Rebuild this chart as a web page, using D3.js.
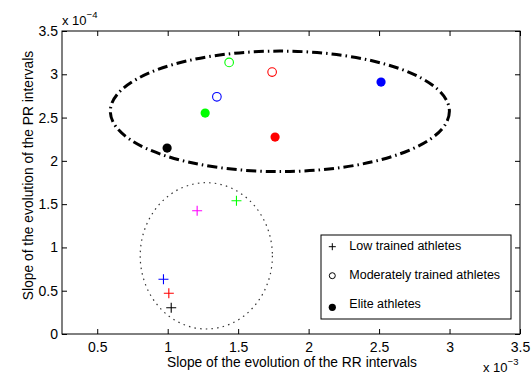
<!DOCTYPE html>
<html><head><meta charset="utf-8">
<script src="https://cdn.jsdelivr.net/npm/d3@7"></script>
<style>
body{margin:0;background:#fff;}
text{font-family:"Liberation Sans",Arial,Helvetica,sans-serif;}
</style></head>
<body><svg id="c" width="532" height="376"></svg>
<script>
// Data (x in units of 1e-3, y in units of 1e-4)
const groups = ["Low trained athletes","Moderately trained athletes","Elite athletes"];
const lowX = [1.209, 1.488, 0.970, 1.008, 1.025];
const lowY = [1.424, 1.539, 0.632, 0.470, 0.304];
const lowColor = ["#ff00ff","#00ff00","#0000ff","#ff0000","#000000"];
const modX = [1.436, 1.741, 1.349];
const modY = [3.137, 3.025, 2.740];
const modColor = ["#00ff00","#ff0000","#0000ff"];
const eliteX = [0.996, 1.266, 1.762, 2.514];
const eliteY = [2.148, 2.552, 2.275, 2.910];
const eliteColor = ["#000000","#00ff00","#ff0000","#0000ff"];
const xTicks = [0.5,1,1.5,2,2.5,3,3.5];
const yTicks = [0,0.5,1,1.5,2,2.5,3,3.5];
// ellipses: [cx, cy, rx, ry]
const ellipseElite = [1.796, 2.572, 1.203, 0.696];
const ellipseLow = [1.274, 0.903, 0.469, 0.845];

const svg = d3.select("#c");
const L=62, R=520, T=31, B=334;
const x = d3.scaleLinear().domain([0.25,3.5]).range([L,R]);
const y = d3.scaleLinear().domain([0,3.5]).range([B,T]);

const fmt = d => String(d);
// axes with inward ticks
const gx = svg.append("g").attr("transform",`translate(0,${B})`)
  .call(d3.axisBottom(x).tickValues(xTicks).tickFormat(fmt).tickSizeInner(-5).tickSizeOuter(0).tickPadding(8));
const gxt = svg.append("g").attr("transform",`translate(0,${T})`)
  .call(d3.axisTop(x).tickValues(xTicks).tickFormat("").tickSizeInner(-5).tickSizeOuter(0));
const gy = svg.append("g").attr("transform",`translate(${L},0)`)
  .call(d3.axisLeft(y).tickValues(yTicks).tickFormat(fmt).tickSizeInner(-5).tickSizeOuter(0).tickPadding(4));
const gyr = svg.append("g").attr("transform",`translate(${R},0)`)
  .call(d3.axisRight(y).tickValues(yTicks).tickFormat("").tickSizeInner(-5).tickSizeOuter(0));
[gx,gxt,gy,gyr].forEach(g=>{
  g.select(".domain").remove();
  g.selectAll("line").attr("stroke","#000");
  g.selectAll("text").attr("font-size",14).attr("fill","#000").style("font-family","Liberation Sans, Arial, sans-serif");
});
svg.append("rect").attr("x",L).attr("y",T).attr("width",R-L).attr("height",B-T)
  .attr("fill","none").attr("stroke","#000").attr("stroke-width",1);

// exponent labels
const e4 = svg.append("text").attr("x",L).attr("y",25).attr("font-size",13);
e4.append("tspan").text("x 10");
e4.append("tspan").attr("dy",-7).attr("font-size",9.5).text("\u22124");
const e3 = svg.append("text").attr("x",483).attr("y",372).attr("font-size",13);
e3.append("tspan").text("x 10");
e3.append("tspan").attr("dy",-7).attr("font-size",9.5).text("\u22123");

// axis titles
svg.append("text").attr("x",292).attr("y",367).attr("text-anchor","middle").attr("font-size",13.8)
  .text("Slope of the evolution of the RR intervals");
svg.append("text").attr("transform",`translate(33,175.5) rotate(-90)`).attr("text-anchor","middle").attr("font-size",13.8)
  .text("Slope of the evolution of the PR intervals");

// ellipses
function drawEllipse(e){
  return svg.append("ellipse").attr("cx",x(e[0])).attr("cy",y(e[1]))
    .attr("rx",x(e[0]+e[2])-x(e[0])).attr("ry",y(e[1])-y(e[1]+e[3])).attr("fill","none");
}
drawEllipse(ellipseElite).attr("stroke","#000").attr("stroke-width",3).attr("stroke-dasharray","10,4,1.5,4");
drawEllipse(ellipseLow).attr("stroke","#333").attr("stroke-width",1.2).attr("stroke-dasharray","1.5,4.2");

// low: plus markers
const ps=5;
lowX.forEach((v,i)=>{
  const cx=x(v), cy=y(lowY[i]);
  svg.append("path").attr("d",`M${cx-ps},${cy}H${cx+ps}M${cx},${cy-ps}V${cy+ps}`)
    .attr("stroke",lowColor[i]).attr("stroke-width",1.1).attr("fill","none");
});
// moderate: open circles
modX.forEach((v,i)=>{
  svg.append("circle").attr("cx",x(v)).attr("cy",y(modY[i])).attr("r",4.3)
    .attr("fill","none").attr("stroke",modColor[i]).attr("stroke-width",1.1);
});
// elite: filled circles
eliteX.forEach((v,i)=>{
  svg.append("circle").attr("cx",x(v)).attr("cy",y(eliteY[i])).attr("r",4.6)
    .attr("fill",eliteColor[i]);
});

// legend
const lg = svg.append("g");
lg.append("rect").attr("x",321).attr("y",235).attr("width",190).attr("height",84)
  .attr("fill","#fff").attr("stroke","#000").attr("stroke-width",1);
const ly=[250,279,308];
const my=[246.7,275.7,307.3];
groups.forEach((g,i)=>{
  const cx=332.3, cy=my[i];
  if(i===0) lg.append("path").attr("d",`M${cx-3.5},${cy}H${cx+3.5}M${cx},${cy-3.5}V${cy+3.5}`).attr("stroke","#000").attr("stroke-width",1);
  if(i===1) lg.append("circle").attr("cx",cx).attr("cy",cy).attr("r",3).attr("fill","none").attr("stroke","#000").attr("stroke-width",1);
  if(i===2) lg.append("circle").attr("cx",cx).attr("cy",cy).attr("r",3.6).attr("fill","#000");
  lg.append("text").attr("x",349.3).attr("y",ly[i]).attr("font-size",12.5).text(g);
});
</script></body></html>
